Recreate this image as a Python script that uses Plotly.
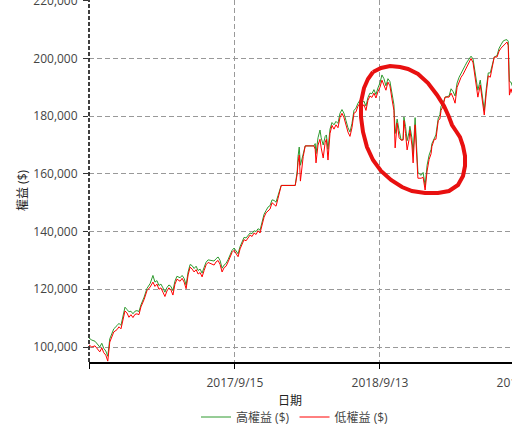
import plotly.graph_objects as go

dates = [
    "2016-09-15", "2016-09-22", "2016-09-30", "2016-10-07", "2016-10-12", "2016-10-17", "2016-10-22", "2016-10-27",
    "2016-11-01", "2016-11-06", "2016-11-11", "2016-11-16", "2016-11-24", "2016-11-29", "2016-12-04", "2016-12-09",
    "2016-12-14", "2016-12-19", "2016-12-24", "2016-12-29", "2017-01-03", "2017-01-08", "2017-01-13", "2017-01-18",
    "2017-01-23", "2017-01-31", "2017-02-07", "2017-02-15", "2017-02-22", "2017-02-27", "2017-03-04", "2017-03-09",
    "2017-03-14", "2017-03-19", "2017-03-24", "2017-03-29", "2017-04-03", "2017-04-08", "2017-04-13", "2017-04-18",
    "2017-04-23", "2017-05-01", "2017-05-06", "2017-05-11", "2017-05-16", "2017-05-21", "2017-05-26", "2017-05-31",
    "2017-06-05", "2017-06-10", "2017-06-15", "2017-06-20", "2017-06-25", "2017-06-30", "2017-07-05", "2017-07-10",
    "2017-07-17", "2017-07-25", "2017-07-30", "2017-08-04", "2017-08-09", "2017-08-14", "2017-08-19", "2017-08-24",
    "2017-08-29", "2017-09-03", "2017-09-08", "2017-09-13", "2017-09-18", "2017-09-23", "2017-09-28", "2017-10-03",
    "2017-10-08", "2017-10-13", "2017-10-18", "2017-10-23", "2017-10-28", "2017-11-02", "2017-11-07", "2017-11-12",
    "2017-11-17", "2017-11-22", "2017-11-27", "2017-12-02", "2017-12-07", "2017-12-12", "2017-12-17", "2017-12-22",
    "2017-12-27", "2018-01-01", "2018-01-06", "2018-01-09", "2018-02-13", "2018-02-18", "2018-02-20", "2018-02-23",
    "2018-02-26", "2018-03-02", "2018-03-05", "2018-03-10", "2018-04-01", "2018-04-04", "2018-04-06", "2018-04-11",
    "2018-04-16", "2018-04-19", "2018-04-24", "2018-04-29", "2018-05-02", "2018-05-06", "2018-05-11", "2018-05-16",
    "2018-05-21", "2018-05-26", "2018-05-31", "2018-06-05", "2018-06-10", "2018-06-15", "2018-06-20", "2018-06-25",
    "2018-06-30", "2018-07-05", "2018-07-10", "2018-07-15", "2018-07-20", "2018-07-25", "2018-07-30", "2018-08-04",
    "2018-08-09", "2018-08-14", "2018-08-19", "2018-08-24", "2018-08-29", "2018-09-03", "2018-09-08", "2018-09-13",
    "2018-09-18", "2018-09-23", "2018-09-28", "2018-10-03", "2018-10-08", "2018-10-13", "2018-10-18", "2018-10-21",
    "2018-10-26", "2018-10-31", "2018-11-05", "2018-11-10", "2018-11-12", "2018-11-16", "2018-11-20", "2018-11-25",
    "2018-11-27", "2018-12-02", "2018-12-05", "2018-12-10", "2018-12-15", "2018-12-17", "2018-12-25", "2018-12-30",
    "2019-01-04", "2019-01-09", "2019-01-14", "2019-01-19", "2019-01-21", "2019-01-27", "2019-01-31", "2019-02-06",
    "2019-02-10", "2019-02-13", "2019-02-18", "2019-02-23", "2019-03-05", "2019-03-10", "2019-03-15", "2019-03-20",
    "2019-03-25", "2019-03-30", "2019-04-04", "2019-04-09", "2019-04-14", "2019-04-19", "2019-04-24", "2019-04-29",
    "2019-05-04", "2019-05-09", "2019-05-14", "2019-05-16", "2019-05-22", "2019-05-27", "2019-06-01", "2019-06-06",
    "2019-06-11", "2019-06-16", "2019-06-21", "2019-06-26", "2019-07-03", "2019-07-08", "2019-07-13", "2019-07-18",
    "2019-07-23", "2019-07-28", "2019-07-31", "2019-08-03", "2019-08-07", "2019-08-10",
]

low_equity = [
    100700, 100000, 100400, 99300, 98300, 99700, 98000, 97200,
    95100, 101700, 103500, 105200, 106000, 107000, 106300, 110000,
    112500, 111800, 110300, 111200, 110200, 111300, 111500, 111200,
    113900, 116500, 119500, 120800, 122500, 121000, 121800, 120000,
    120500, 119000, 117500, 119400, 120500, 119800, 118000, 121700,
    123500, 122800, 123800, 122500, 120200, 125000, 127700, 127000,
    126000, 126800, 125300, 125800, 124300, 126500, 128500, 129300,
    129000, 128400, 129500, 130000, 128600, 126000, 127500, 128000,
    129500, 131000, 132800, 133500, 132300, 131300, 134000, 136000,
    137200, 136800, 138000, 138800, 138300, 139500, 139000, 140300,
    139500, 142000, 145000, 146500, 147300, 147800, 150000, 149500,
    148800, 151500, 154500, 156000, 156000, 160000, 164000, 166500,
    157500, 163000, 166000, 169700, 169700, 168500, 163800, 170000,
    172000, 169000, 165500, 171000, 172000, 164800, 174000, 176800,
    175500, 177000, 176000, 179500, 181000, 179500, 177000, 174500,
    173000, 176000, 181000, 181500, 183500, 184500, 183000, 184000,
    182000, 185500, 187000, 186500, 188000, 186300, 188500, 190000,
    192500, 191000, 189000, 191800, 190500, 186000, 182000, 169000,
    177600, 172500, 171700, 171700, 178500, 174000, 168300, 172000,
    175200, 170000, 163800, 177000, 161300, 158500, 158500, 158800,
    154400, 161000, 165000, 167000, 169500, 172000, 172000, 178500,
    179000, 182000, 183500, 186600, 186600, 188000, 186500, 184500,
    190000, 192000, 193500, 194500, 196000, 197500, 198800, 200000,
    198500, 194000, 189800, 186600, 190800, 185000, 180400, 188000,
    194000, 193500, 196600, 200500, 200500, 202500, 203600, 204500,
    205000, 205700, 204500, 187300, 189500, 188000,
]

high_equity = [
    103100, 102400, 102000, 101000, 100000, 101300, 99500, 98600,
    96800, 102800, 104800, 106300, 107400, 108200, 107500, 111000,
    113800, 113000, 112200, 112400, 111500, 112400, 112600, 112300,
    114600, 117300, 120300, 122000, 124800, 122500, 123000, 121300,
    121800, 120500, 119000, 120600, 121500, 121000, 119500, 122800,
    124500, 124000, 124800, 123800, 121500, 126000, 128600, 128200,
    127200, 128000, 126500, 127000, 125600, 127600, 129400, 130200,
    130100, 129800, 130600, 131200, 130000, 127300, 128400, 129000,
    130300, 131800, 133500, 134300, 133300, 132300, 134800, 136800,
    138000, 137800, 138800, 139500, 139300, 140300, 140000, 141000,
    140500, 142800, 146000, 147300, 148500, 149000, 151000, 150800,
    150200, 152500, 155300, 156000, 156000, 161000, 166000, 169300,
    163000, 165500, 167500, 169700, 169700, 170500, 167000, 172500,
    175200, 172500, 170000, 173000, 173500, 168500, 175500, 177800,
    177000, 178200, 177500, 181000, 182300, 181000, 178500, 176000,
    174500, 177500, 182000, 182800, 184500, 185500, 184500, 185200,
    183500, 186500, 188000, 187800, 189200, 187500, 189800, 191500,
    194300, 193000, 190500, 193000, 192000, 187500, 184000, 174000,
    179000, 175000, 171700, 172000, 179700, 176500, 171500, 174500,
    176500, 172500, 167000, 179500, 164000, 160500, 159500, 160500,
    156000, 163000, 166500, 168500, 170500, 172500, 173500, 179400,
    180500, 183500, 184500, 186600, 187000, 189500, 188500, 187000,
    191500, 193500, 195000, 196000, 197500, 198800, 200000, 200800,
    199800, 195500, 192000, 189000, 192500, 187000, 182000, 189500,
    195000, 195000, 197800, 200500, 201000, 203500, 204800, 206000,
    206400, 206500, 206000, 192000, 191800, 190500,
]

tick_dates = ["2016-09-15", "2017-09-15", "2018-09-13", "2019-09-11"]
tick_labels = ["", "2017/9/15", "2018/9/13", "2019/9/11"]
y_ticks = [100000, 120000, 140000, 160000, 180000, 200000, 220000]

FONT = "'Open Sans', 'Noto Sans CJK TC', sans-serif"

# layout geometry (pixels); the figure is shifted up by SHIFT px on the page
SHIFT = 10
W, H = 560, 450
ML, MR, MT = 89, 15, SHIFT
PLOT_BOTTOM = 362 + SHIFT
MB = H - PLOT_BOTTOM
PW, PH = W - ML - MR, PLOT_BOTTOM - MT


def px_to_paper(x, y):
    """page pixel -> paper coords"""
    return (x - ML) / PW, (PLOT_BOTTOM - (y + SHIFT)) / PH


# hand-drawn red loop (page-pixel outline of the annotation)
loop_px = [
    (373, 72), (381, 68), (390, 66), (400, 67), (408, 69), (418, 74), (428, 83), (437, 95),
    (444, 106), (449, 117), (452, 125), (456, 131), (460, 137), (463, 146), (465, 156),
    (465, 166), (463, 176), (458, 185), (449, 191), (438, 193), (425, 193), (412, 191),
    (402, 187), (391, 180), (381, 171), (373, 160), (367, 147), (363, 132), (361, 117),
    (361, 102), (364, 88), (368, 79), (373, 72),
]
loop_path = "M " + " L ".join(
    "{:.4f},{:.4f}".format(*px_to_paper(x, y)) for x, y in loop_px
)

fig = go.Figure()
fig.add_trace(go.Scatter(
    x=dates, y=high_equity, mode="lines", name="高權益 ($)",
    line=dict(color="#2e9a2e", width=1),
))
fig.add_trace(go.Scatter(
    x=dates, y=low_equity, mode="lines", name="低權益 ($)",
    line=dict(color="#ff0000", width=1),
))

lgx, lgy = px_to_paper(295, 417)
xtx, xty = px_to_paper(290, 400)
ytx, yty = px_to_paper(22, 190)

fig.update_layout(
    width=W, height=H,
    margin=dict(l=ML, r=MR, t=MT, b=MB, pad=0, autoexpand=False),
    paper_bgcolor="white", plot_bgcolor="white",
    font=dict(family=FONT, size=12, color="#444"),
    showlegend=True,
    legend=dict(
        orientation="h", x=lgx, y=lgy,
        xanchor="center", yanchor="middle",
        font=dict(size=12, color="#444"), itemwidth=30,
        bgcolor="rgba(0,0,0,0)",
    ),
    xaxis=dict(
        type="date", range=["2016-09-15", "2019-10-31"],
        tickvals=tick_dates, ticktext=tick_labels,
        showgrid=True, gridcolor="#999", griddash="5px,3px", gridwidth=1,
        showline=True, linecolor="black", linewidth=1.5,
        ticks="outside", ticklen=5, tickcolor="black", tickwidth=1,
        ticklabelstandoff=4, automargin=False,
        tickfont=dict(size=12, color="#444"),
        zeroline=False, fixedrange=True,
    ),
    yaxis=dict(
        range=[94800, 220270],
        tickvals=y_ticks, tickformat=",",
        showgrid=True, gridcolor="#999", griddash="5px,3px", gridwidth=1,
        showline=False, zeroline=False,
        ticks="outside", ticklen=5, tickcolor="#333", tickwidth=1,
        ticklabelstandoff=3, automargin=False,
        tickfont=dict(size=12, color="#444"),
        fixedrange=True,
    ),
    annotations=[
        dict(text="日期", x=xtx, y=xty,
             xref="paper", yref="paper", showarrow=False,
             xanchor="center", yanchor="middle",
             font=dict(size=12, color="#222")),
        dict(text="權益 ($)", x=ytx, y=yty,
             xref="paper", yref="paper", showarrow=False, textangle=-90,
             xanchor="center", yanchor="middle",
             font=dict(size=12, color="#222")),
    ],
    shapes=[
        dict(type="line", xref="paper", yref="paper", x0=0, x1=0, y0=0, y1=1,
             line=dict(color="black", width=1.5, dash="4px,2px")),
        dict(type="path", xref="paper", yref="paper", path=loop_path,
             line=dict(color="#e81010", width=4)),
    ],
)

fig.write_html(
    "out.html",
    config={"displayModeBar": False},
    post_script="document.body.style.margin='0';"
                "document.body.style.marginTop='-%dpx';"
                "document.body.style.overflow='hidden';"
                "document.documentElement.style.overflow='hidden';" % SHIFT,
)
